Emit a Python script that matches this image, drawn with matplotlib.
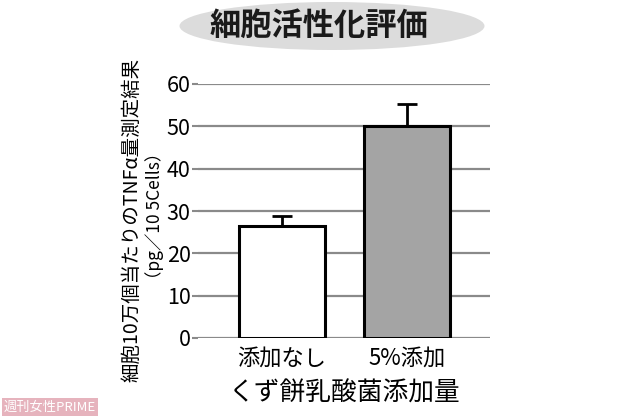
import matplotlib
matplotlib.use("Agg")
import matplotlib.pyplot as plt
from matplotlib.patches import Ellipse

plt.rcParams['font.family'] = ['Noto Sans CJK JP', 'DejaVu Sans']

# data
groups = ["添加なし", "5%添加"]
tnf_values = [26.4, 50.0]
err_upper = [2.4, 5.2]
bar_colors = ["white", "#a4a4a4"]
y_ticks = [0, 10, 20, 30, 40, 50, 60]

fig = plt.figure(figsize=(6.2, 4.18), dpi=100)
ax = fig.add_axes([198 / 620, 1 - 338 / 418, 292 / 620, 254 / 418])

x = list(range(len(groups)))
ax.bar(x, tnf_values, width=0.685, color=bar_colors, edgecolor="black",
       linewidth=2.2, zorder=3)
ax.errorbar(x, tnf_values, yerr=[[0] * len(err_upper), err_upper], fmt="none",
            ecolor="black", elinewidth=2, capsize=7, capthick=2, zorder=2)

ax.set_ylim(0, 60)
ax.set_xlim(-0.67, 1.66)
ax.set_yticks(y_ticks)
ax.set_xticks(x)
ax.set_xticklabels(groups, fontsize=16)
ax.yaxis.grid(True, color="#8a8a8a", linewidth=1.6, zorder=0)
ax.set_axisbelow(True)
for s in ax.spines.values():
    s.set_visible(False)
ax.tick_params(axis="y", length=4.3, width=1.5, color="#8a8a8a", pad=1,
               labelsize=15.5)
ax.tick_params(axis="x", length=0, pad=6)

ax.set_xlabel("くず餅乳酸菌添加量", fontsize=18.5, labelpad=8)

# y label in two lines
fig.text(132 / 620, 1 - 220 / 418, "細胞10万個当たりのTNFα量測定結果",
         rotation=90, ha="center", va="center", fontsize=14)
fig.text(155 / 620, 1 - 216 / 418, "（pg／10 5Cells）",
         rotation=90, ha="center", va="center", fontsize=12.5)

# title on grey ellipse
fig.patches.append(Ellipse((332 / 620, 1 - 26 / 418), 305 / 620, 48 / 418,
                           transform=fig.transFigure, facecolor="#dcdcdc",
                           edgecolor="none", zorder=0))
fig.text(319 / 620, 1 - 26 / 418, "細胞活性化評価", ha="center", va="center",
         fontsize=22.5, fontweight="bold", color="#1a1a1a")

# watermark
fig.text(4 / 620, 1 - 407 / 418, "週刊女性PRIME", ha="left", va="center",
         fontsize=9.5, color="white",
         bbox=dict(facecolor="#e6b3bd", edgecolor="none", pad=1.5))

fig.savefig("out.png", dpi=100)
